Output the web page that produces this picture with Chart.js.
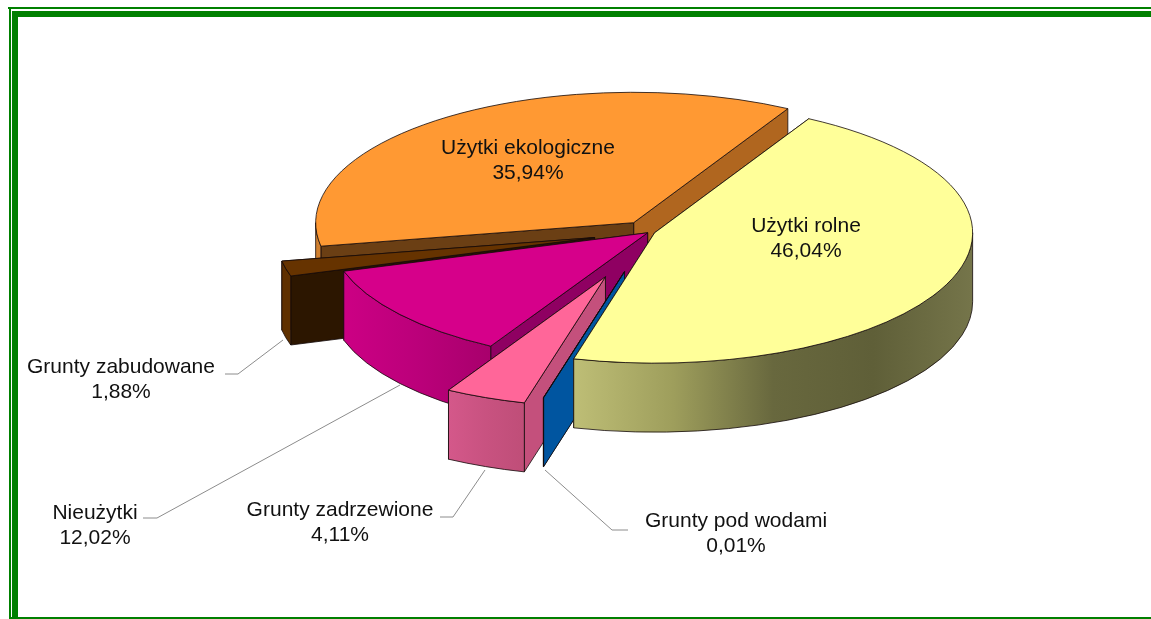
<!DOCTYPE html>
<html lang="pl">
<head>
<meta charset="utf-8">
<title>Struktura gruntów</title>
<script src="https://cdn.jsdelivr.net/npm/chart.js@4"></script>
<style>
html,body{margin:0;padding:0;background:#fff;overflow:hidden;width:1151px;height:619px}
#wrap{position:relative;width:1151px;height:619px}
canvas{position:absolute;left:0;top:0}
.f{position:absolute;background:#008000}
</style>
</head>
<body>
<div id="wrap">
<canvas id="c" width="1151" height="619"></canvas>
<div class="f" style="left:8px;top:7px;width:1143px;height:2px"></div>
<div class="f" style="left:12px;top:11px;width:1139px;height:6px"></div>
<div class="f" style="left:9px;top:7px;width:2px;height:612px"></div>
<div class="f" style="left:12px;top:11px;width:6px;height:608px"></div>
<div class="f" style="left:9px;top:617px;width:1142px;height:2px"></div>
</div>
<script>
const categories = ["Użytki rolne","Grunty pod wodami","Grunty zadrzewione","Nieużytki","Grunty zabudowane","Użytki ekologiczne"];
const values = [46.04,0.01,4.11,12.02,1.88,35.94];
const percentLabels = ["46,04%","0,01%","4,11%","12,02%","1,88%","35,94%"];
const explode = [5,100,118,3,57,28];
const topColors = ["#ffff99","#0055a0","#ff6699","#d6008a","#663300","#ff9933"];
const endFaceColors = ["#8a8a50","#0055a0","#c4507c","#8f0062","#5c2e00","#b0661f"];
const startFaceColors = ["#8a8a50","#0055a0","#c4507c","#8f0062","#2c1600","#6b3f14"];
const wallStops = [
  ["#bebe76","#9e9e5c","#68683e","#5f5f38","#75754a"],
  ["#0055a0","#0055a0"],
  ["#d4588a","#c85280","#bf4e78"],
  ["#cc0084","#bb007a","#a8006c"],
  ["#5f3000","#5f3000"],
  ["#d08030","#d08030"]
];
const paintOrder = [5,4,3,2,1,0];

const tilt = 0.41, depth = 69;
const centerX = 650, centerY = 232, W = 1151, H = 619;

const labelLayout = [
  {i:0,x:806,y:226},
  {i:5,x:528,y:148},
  {i:4,x:121,y:367,lead:[[225,374],[238,374],[283,340]]},
  {i:3,x:95,y:513,lead:[[143,518],[157,518],[400,385]]},
  {i:2,x:340,y:510,lead:[[440,517],[453,517],[485,470]]},
  {i:1,x:736,y:521,lead:[[628,530],[612,530],[545,470]]}
];

const pie3d = {
  id:'pie3d',
  beforeDatasetsDraw(chart){
    const ctx = chart.ctx, arcs = chart.getDatasetMeta(0).data;
    paintOrder.forEach(idx=>{
      const arc = arcs[idx], s = arc.startAngle, e = arc.endAngle, r = arc.outerRadius;
      const mid = (s+e)/2;
      const ox = arc.x + Math.cos(mid)*explode[idx];
      const oy = arc.y + Math.sin(mid)*explode[idx]*tilt;
      const px = a => ox + r*Math.cos(a), py = a => oy + r*tilt*Math.sin(a);
      ctx.save();
      ctx.lineWidth = 1; ctx.strokeStyle = 'rgba(20,10,10,.8)'; ctx.lineJoin = 'round';
      const face = (a,col)=>{
        ctx.beginPath(); ctx.moveTo(ox,oy); ctx.lineTo(px(a),py(a));
        ctx.lineTo(px(a),py(a)+depth); ctx.lineTo(ox,oy+depth); ctx.closePath();
        ctx.fillStyle = col; ctx.fill(); ctx.stroke();
      };
      face(e,endFaceColors[idx]);
      face(s,startFaceColors[idx]);
      // only the part of the rim that faces the viewer
      for(let k=-1;k<=2;k++){
        const lo = k*2*Math.PI, a0 = Math.max(s,lo), a1 = Math.min(e,lo+Math.PI);
        if(a1<=a0) continue;
        let xMin = Infinity, xMax = -Infinity;
        for(let t=0;t<=40;t++){const x = px(a0+(a1-a0)*t/40); xMin=Math.min(xMin,x); xMax=Math.max(xMax,x);}
        const g = ctx.createLinearGradient(xMin,0,Math.max(xMax,xMin+1),0);
        wallStops[idx].forEach((c,n,list)=>g.addColorStop(n/(list.length-1),c));
        ctx.beginPath();
        ctx.ellipse(ox,oy,r,r*tilt,0,a0,a1);
        ctx.ellipse(ox,oy+depth,r,r*tilt,0,a1,a0,true);
        ctx.closePath();
        ctx.fillStyle = g; ctx.fill(); ctx.stroke();
      }
      ctx.save();
      ctx.translate(ox,oy); ctx.scale(1,tilt); ctx.translate(-arc.x,-arc.y);
      arc.draw(ctx);
      ctx.restore();
      ctx.beginPath();
      ctx.moveTo(ox,oy);
      ctx.ellipse(ox,oy,r,r*tilt,0,s,e);
      ctx.closePath(); ctx.stroke();
      ctx.restore();
    });
    return false;
  },
  afterDraw(chart){
    const ctx = chart.ctx;
    ctx.save();
    ctx.font = '21px "Liberation Sans", Arial, sans-serif';
    ctx.textAlign = 'center'; ctx.textBaseline = 'middle'; ctx.fillStyle = '#111';
    labelLayout.forEach(l=>{
      ctx.fillText(categories[l.i], l.x, l.y);
      ctx.fillText(percentLabels[l.i], l.x, l.y+25);
      if(l.lead){
        ctx.beginPath(); ctx.lineWidth = 1; ctx.strokeStyle = '#8c8c8c';
        l.lead.forEach((p,n)=> n ? ctx.lineTo(p[0],p[1]) : ctx.moveTo(p[0],p[1]));
        ctx.stroke();
      }
    });
    ctx.restore();
  }
};

new Chart(document.getElementById('c'),{
  type:'pie',
  data:{labels:categories,datasets:[{data:values,backgroundColor:topColors,borderWidth:0}]},
  options:{
    responsive:false,animation:false,
    rotation:29,radius:318,
    layout:{padding:{left:2*centerX-W,bottom:H-2*centerY}},
    plugins:{legend:{display:false},tooltip:{enabled:false}},
    events:[]
  },
  plugins:[pie3d]
});
</script>
</body>
</html>
